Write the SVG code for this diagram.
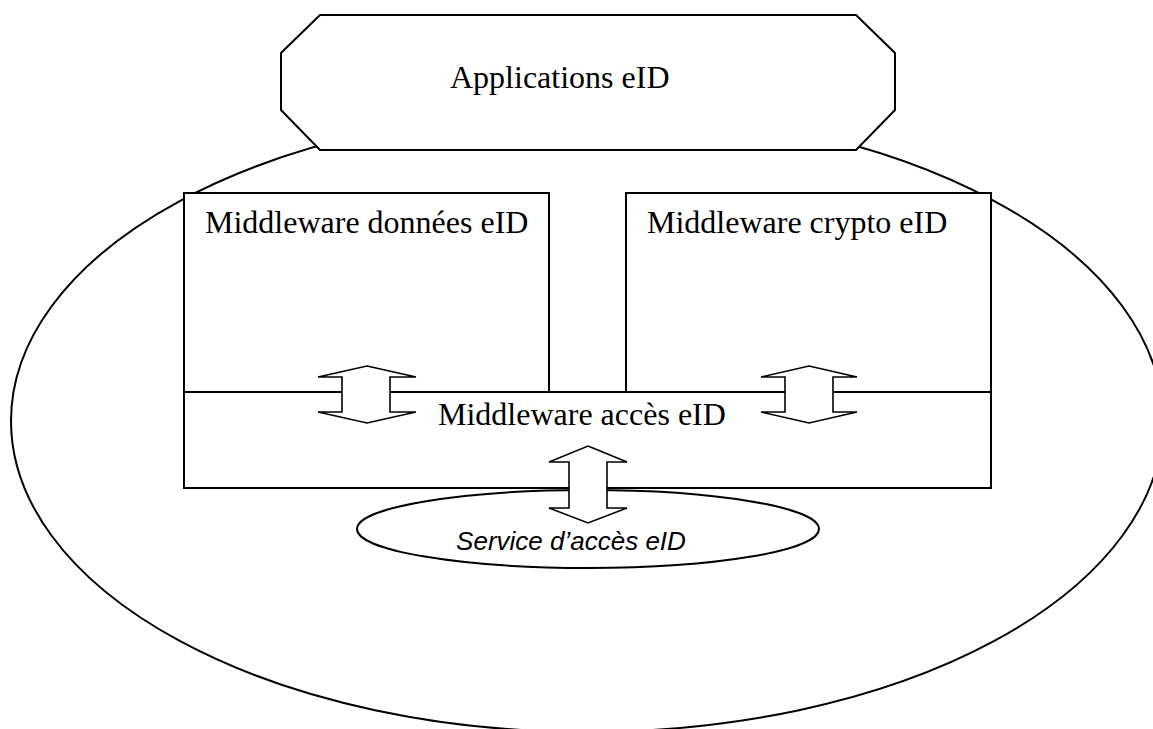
<svg xmlns="http://www.w3.org/2000/svg" width="1153" height="729" viewBox="0 0 1153 729">
  <style>
    .shape { fill: #fff; stroke: #000; stroke-width: 2; }
    .arrow { fill: #fff; stroke: #000; stroke-width: 1.6; stroke-linejoin: miter; }
    .serif { font-family: "Liberation Serif", "Times New Roman", serif; font-size: 32px; fill: #000; }
    .sans-it { font-family: "Liberation Sans", Arial, sans-serif; font-size: 26px; font-style: italic; fill: #000; }
  </style>
  <rect width="1153" height="729" fill="#fff"/>

  <!-- outer environment -->
  <g id="environment">
    <ellipse class="shape" cx="587" cy="421" rx="576" ry="311"/>
  </g>

  <!-- applications layer -->
  <g id="applications">
    <polygon class="shape" points="320,15 856,15 895,53 895,110 856,150 320,150 281,110 281,53"/>
    <text class="serif" x="450" y="88">Applications eID</text>
  </g>

  <!-- middleware blocks -->
  <g id="mw-donnees">
    <rect class="shape" x="184" y="193" width="365" height="199"/>
    <text class="serif" x="205" y="233">Middleware données eID</text>
  </g>
  <g id="mw-crypto">
    <rect class="shape" x="626" y="193" width="365" height="199"/>
    <text class="serif" x="647" y="233">Middleware crypto eID</text>
  </g>
  <g id="mw-acces">
    <rect class="shape" x="184" y="392" width="807" height="96"/>
    <text class="serif" x="438" y="425">Middleware accès eID</text>
  </g>

  <!-- access service -->
  <g id="service-acces">
    <ellipse class="shape" cx="588" cy="529" rx="231" ry="39"/>
  </g>

  <!-- two-way block arrows -->
  <g id="connectors">
    <polygon class="arrow" points="367,366 416,377 390,377 390,412 416,412 367,423 318,412 342,412 342,377 318,377"/>
    <polygon class="arrow" points="809,366 857,377 833,377 833,412 857,412 809,423 761,412 785,412 785,377 761,377"/>
    <polygon class="arrow" points="588,446 627,462 607,462 607,508 627,508 588,523 549,508 569,508 569,462 549,462"/>
  </g>

  <g id="service-label">
    <text class="sans-it" x="571" y="550" text-anchor="middle">Service d’accès eID</text>
  </g>
</svg>
